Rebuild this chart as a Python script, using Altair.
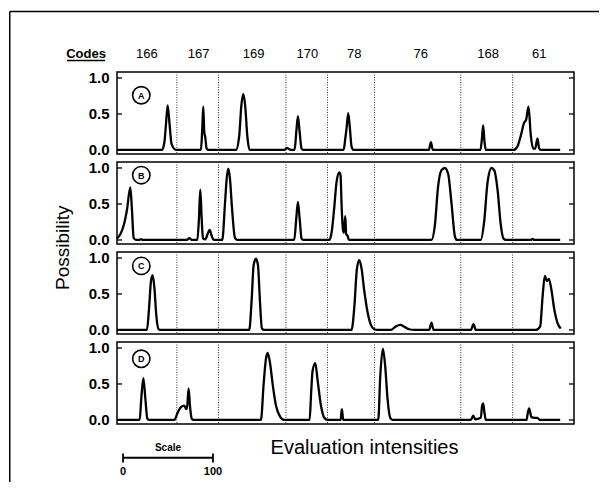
import altair as alt
import pandas as pd

# ---------------- data ----------------
codes = ["166", "167", "169", "170", "78", "76", "168", "61"]
code_x = [33.1, 90.8, 151.9, 211.6, 263.8, 337.7, 412.6, 469.4]
separators = [66.5, 112.8, 187.8, 234.0, 286.3, 382.1, 439.8]
panel_names = ["A", "B", "C", "D"]
label_x = 27
label_y = [0.76, 0.90, 0.89, 0.85]
y_ticks = [0.0, 0.5, 1.0]

a_x = [0, 50.0, 52.6, 54.4, 56.3, 58.5, 60.7, 65.6,
       93.3, 94.8, 95.9, 97.0, 98.1, 99.6, 101.5,
       132.2, 135.9, 138.1, 140.4, 142.6, 144.8, 147.4,
       186.0, 189.0, 191.5, 194.0,
       197.4, 199.3, 201.1, 203.0, 205.2, 207.4,
       251.9, 253.7, 255.2, 257.0, 258.9, 260.7, 263.0,
       346.7, 348.9, 351.1,
       404.0, 405.6, 407.0, 408.5, 410.0,
       440.7, 445.2, 448.9, 452.6, 454.8, 457.4, 460.0, 462.6, 464.8, 467.4, 469.3, 471.0,
       492.6]
a_y = [0, 0, 0.10, 0.35, 0.62, 0.35, 0.08, 0,
       0, 0.30, 0.60, 0.25, 0.18, 0.02, 0,
       0, 0.20, 0.60, 0.78, 0.60, 0.20, 0,
       0, 0.03, 0.01, 0,
       0, 0.25, 0.47, 0.25, 0.02, 0,
       0, 0.15, 0.30, 0.51, 0.30, 0.05, 0,
       0, 0.11, 0,
       0, 0.15, 0.34, 0.12, 0,
       0, 0.05, 0.20, 0.38, 0.42, 0.60, 0.20, 0.02, 0.02, 0.16, 0.02, 0,
       0]

b_x = [0, 3.7, 7.4, 11.1, 14.8, 16.7, 18.5, 21.0,
       24.8, 26.7, 28.9,
       77.8, 80.4, 83.0,
       89.3, 91.1, 92.6, 94.1, 95.6, 98.1, 100.7, 103.0, 105.2, 107.4,
       117.0, 120.0, 121.9, 123.7, 125.6, 127.8, 131.1, 133.3,
       197.0, 199.3, 201.1, 203.0, 205.2, 207.4,
       236.0, 238.5, 241.5, 244.0, 247.0, 248.5, 249.6, 251.1, 252.2, 253.7, 254.8, 256.3, 257.8,
       349.6, 353.3, 357.0, 360.7, 364.4, 368.1, 371.9, 375.6, 377.8,
       404.4, 408.1, 411.9, 416.3, 419.3, 423.0, 426.7, 429.6, 432.2,
       460.0, 461.9, 463.7,
       492.6]
b_y = [0.02, 0.08, 0.20, 0.42, 0.73, 0.40, 0.03, 0,
       0, 0.01, 0,
       0, 0.025, 0,
       0, 0.30, 0.70, 0.30, 0.02, 0.01, 0.08, 0.14, 0.06, 0,
       0, 0.50, 0.85, 0.99, 0.85, 0.45, 0.03, 0,
       0, 0.30, 0.53, 0.30, 0.02, 0,
       0, 0.10, 0.45, 0.80, 0.94, 0.90, 0.50, 0.15, 0.10, 0.33, 0.08, 0.06, 0,
       0, 0.20, 0.75, 0.97, 1.00, 0.92, 0.50, 0.05, 0,
       0, 0.25, 0.80, 1.00, 0.97, 0.70, 0.20, 0.02, 0,
       0, 0.015, 0,
       0]

c_x = [0, 33.3, 35.6, 37.8, 39.6, 41.5, 43.7, 46.3, 48.9,
       147.0, 149.6, 151.9, 154.4, 156.7, 158.9, 161.1, 163.7,
       260.7, 263.7, 266.7, 269.3, 271.9, 274.8, 278.5, 282.2, 285.9, 289.6,
       304.4, 310.0, 314.8, 320.0, 324.8, 330.4,
       347.0, 349.6, 351.9,
       393.3, 396.3, 398.9,
       465.6, 470.4, 473.0, 475.6, 477.8, 480.0, 483.0, 485.9, 489.6, 493.3]
c_y = [0, 0, 0.30, 0.68, 0.76, 0.60, 0.20, 0.01, 0,
       0, 0.40, 0.90, 0.99, 0.90, 0.40, 0.02, 0,
       0, 0.30, 0.85, 0.97, 0.85, 0.55, 0.25, 0.07, 0.01, 0,
       0, 0.05, 0.07, 0.04, 0.01, 0,
       0, 0.10, 0,
       0, 0.08, 0,
       0, 0.05, 0.45, 0.75, 0.68, 0.71, 0.55, 0.30, 0.10, 0.02]

d_x = [0, 25.2, 27.0, 29.3, 31.5, 33.7, 35.9,
       63.7, 67.4, 71.1, 74.8, 77.0, 78.1, 79.6, 81.1, 83.0, 85.2,
       160.0, 163.0, 165.6, 167.4, 170.0, 173.0, 176.7, 181.1, 185.9,
       214.1, 215.9, 217.4, 220.4, 223.0, 226.7, 230.4, 234.0,
       248.5, 250.0, 251.5,
       290.4, 292.6, 295.6, 298.1, 300.7, 303.7, 306.3,
       393.3, 396.0, 398.1, 404.4, 405.9, 407.0, 408.5, 410.0,
       455.2, 456.7, 458.1, 460.7, 464.4, 467.4, 470.0,
       492.6]
d_y = [0, 0, 0.30, 0.58, 0.30, 0.02, 0,
       0, 0.10, 0.18, 0.20, 0.15, 0.20, 0.44, 0.20, 0.02, 0,
       0, 0.50, 0.85, 0.93, 0.80, 0.50, 0.20, 0.05, 0,
       0, 0.40, 0.68, 0.79, 0.55, 0.20, 0.03, 0,
       0, 0.15, 0,
       0, 0.60, 0.99, 0.75, 0.30, 0.03, 0,
       0, 0.06, 0.01, 0.03, 0.20, 0.23, 0.10, 0,
       0, 0.10, 0.16, 0.04, 0.03, 0.03, 0,
       0]

scale_start = 6.7
scale_len = 100

curves = [(a_x, a_y), (b_x, b_y), (c_x, c_y), (d_x, d_y)]

# ---------------- layout constants ----------------
W, H = 457, 82
X_DOMAIN = [0, 508]
Y_DOMAIN = [-0.056, 1.083]
FONT = "Liberation Sans"


def xenc(axis=None):
    return alt.X("x:Q", scale=alt.Scale(domain=X_DOMAIN, nice=False, zero=False), axis=axis)


yenc = alt.Y(
    "y:Q",
    scale=alt.Scale(domain=Y_DOMAIN, nice=False, zero=False),
    axis=alt.Axis(values=y_ticks, format=".1f", ticks=False, domain=False, grid=False,
                  labelFont=FONT, labelFontWeight="bold", labelFontSize=15,
                  labelColor="black", labelPadding=8, title=None),
)

one = pd.DataFrame({"x": [0.0], "y": [0.0]})


def panel(i):
    xs, ys = curves[i]
    xaxis = None
    if i == 3:
        xaxis = alt.Axis(title="Evaluation intensities", labels=False, ticks=False, domain=False,
                         grid=False, titleFont=FONT, titleFontSize=20, titleFontWeight="normal",
                         titleColor="black", titleX=247, titleY=23.75, titleBaseline="middle",
                         titleAlign="center", titleAnchor="start")
    X = xenc(xaxis)

    line = alt.Chart(pd.DataFrame({"x": xs, "y": ys})).mark_line(
        color="black", strokeWidth=2.3, interpolate="monotone"
    ).encode(x=X, y=yenc)

    seps = alt.Chart(pd.DataFrame({"x": separators, "y": [0.0] * len(separators)})).mark_rule(
        color="#333333", strokeWidth=1, strokeDash=[1, 1.5]
    ).encode(x=X)

    tdf = pd.DataFrame({"x": [0.0] * 3, "y": y_ticks})
    lticks = alt.Chart(tdf).mark_rule(color="black", strokeWidth=1.3).encode(
        y=yenc, x=alt.value(0), x2=alt.value(5))
    rticks = alt.Chart(tdf).mark_rule(color="black", strokeWidth=1.3).encode(
        y=yenc, x=alt.value(W - 5), x2=alt.value(W))

    ldf = pd.DataFrame({"x": [label_x], "y": [label_y[i]], "t": [panel_names[i]]})
    circ = alt.Chart(ldf).mark_point(shape="circle", size=300, filled=False, color="black",
                                     strokeWidth=1.6, opacity=1).encode(x=X, y=yenc)
    letter = alt.Chart(ldf).mark_text(font=FONT, fontSize=9, fontWeight="bold", color="black",
                                      baseline="middle", align="center", dy=0.5).encode(
        x=X, y=yenc, text="t:N")

    layers = [seps, line, lticks, rticks, circ, letter]

    if i == 0:
        cdf = pd.DataFrame({"x": code_x, "y": [0.0] * len(codes), "t": codes})
        code_txt = alt.Chart(cdf).mark_text(font=FONT, fontSize=13, color="black",
                                            baseline="middle", align="center").encode(
            x=X, y=alt.value(-18.5), text="t:N")
        codes_hdr = alt.Chart(pd.DataFrame({"t": ["Codes"]})).mark_text(
            font=FONT, fontSize=13, fontWeight="bold", color="black", baseline="middle",
            align="center").encode(x=alt.value(-31), y=alt.value(-18.5), text="t:N")
        underline = alt.Chart(one).mark_rule(color="black", strokeWidth=1.3).encode(
            x=alt.value(-50), x2=alt.value(-12), y=alt.value(-11.5))
        ytitle = alt.Chart(pd.DataFrame({"t": ["Possibility"]})).mark_text(
            font=FONT, fontSize=19, color="black", angle=270, baseline="middle",
            align="center").encode(x=alt.value(-54), y=alt.value(175.75), text="t:N")
        frame_top = alt.Chart(one).mark_rule(color="black", strokeWidth=1.5).encode(
            x=alt.value(-107.25), x2=alt.value(482), y=alt.value(-60.5))
        frame_left = alt.Chart(one).mark_rule(color="black", strokeWidth=1.5).encode(
            x=alt.value(-107.25), y=alt.value(-60.5), y2=alt.value(410))
        layers += [code_txt, codes_hdr, underline, ytitle, frame_top, frame_left]

    if i == 3:
        sdf = pd.DataFrame({"x": [scale_start], "x2": [scale_start + scale_len], "y": [0.0]})
        bar = alt.Chart(sdf).mark_rule(color="black", strokeWidth=1.8).encode(
            x=X, x2="x2:Q", y=alt.value(115.75))
        edf = pd.DataFrame({"x": [scale_start, scale_start + scale_len], "y": [0.0, 0.0],
                            "t": ["0", str(scale_len)]})
        ends = alt.Chart(edf).mark_rule(color="black", strokeWidth=1.8).encode(
            x=X, y=alt.value(111.5), y2=alt.value(120.5))
        end_txt = alt.Chart(edf).mark_text(font=FONT, fontSize=11, fontWeight="bold",
                                           color="black", baseline="middle",
                                           align="center").encode(
            x=X, y=alt.value(129.5), text="t:N")
        mdf = pd.DataFrame({"x": [scale_start + scale_len / 2], "y": [0.0], "t": ["Scale"]})
        scale_txt = alt.Chart(mdf).mark_text(font=FONT, fontSize=10, fontWeight="bold",
                                             color="black", baseline="middle",
                                             align="center").encode(
            x=X, y=alt.value(105.5), text="t:N")
        layers += [bar, ends, end_txt, scale_txt]

    return alt.layer(*layers).properties(width=W, height=H)


chart = alt.vconcat(*[panel(i) for i in range(4)], spacing=8, bounds="flush").properties(
    padding={"left": 0, "top": 2, "right": 0, "bottom": 0},
    background="white",
).configure_view(stroke="black", strokeWidth=1.5).configure_axis(grid=False)

chart.save("out.html", embed_options={"renderer": "svg", "actions": False})
